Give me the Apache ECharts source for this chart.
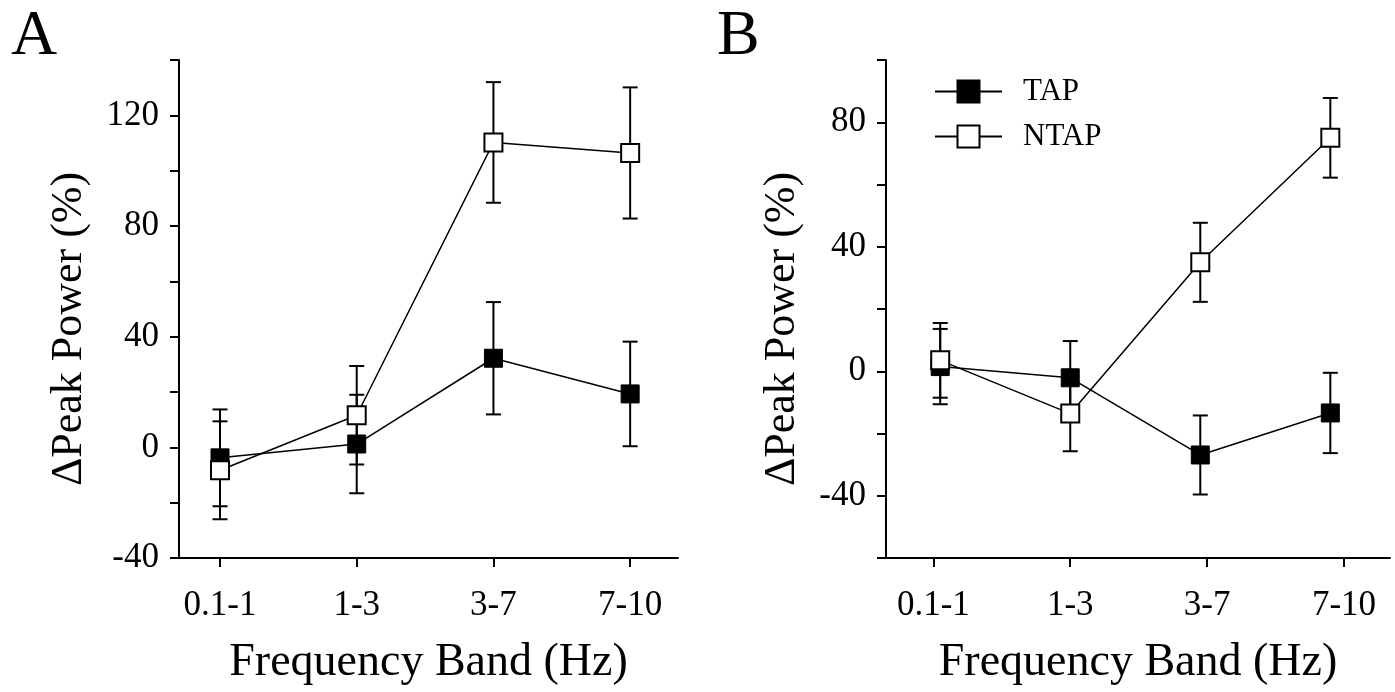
<!DOCTYPE html>
<html>
<head>
<meta charset="utf-8">
<style>
  html, body { margin: 0; padding: 0; background: #fff; }
  #chart { width: 1395px; height: 692px; }
</style>
<script src="https://cdn.jsdelivr.net/npm/echarts@6/dist/echarts.min.js"></script>
</head>
<body>
<div id="chart"></div>
<script>
var bands = ['0.1-1', '1-3', '3-7', '7-10'];
var bandTicks = [0, 1, 2, 3];

// panel A  (mean, error)
var aPos = [0, 1, 2, 3];
var aTap = [-3.8, 1.2, 32.2, 19.3];
var aTapErr = [17.5, 17.8, 20.3, 18.9];
var aNtap = [-8.3, 11.6, 110.2, 106.4];
var aNtapErr = [17.7, 17.8, 21.8, 23.7];
var aYLabels = [-40, 0, 40, 80, 120];

// panel B
var bPos = [0.05, 1, 1.95, 2.9];
var bTap = [1.5, -2.1, -26.9, -13.4];
var bTapErr = [12.1, 11.8, 12.7, 12.9];
var bNtap = [3.5, -13.6, 35.0, 75.0];
var bNtapErr = [12.0, 12.1, 12.7, 12.8];
var bYLabels = [-40, 0, 40, 80];

var FONT = "'Liberation Serif', 'Times New Roman', serif";

var chart = echarts.init(document.getElementById('chart'));

function xAxis(idx, min, max) {
  return {
    type: 'value',
    gridIndex: idx,
    min: min,
    max: max,
    axisLine: { show: true, onZero: false, lineStyle: { color: '#000', width: 2 } },
    axisTick: { show: true, customValues: bandTicks, length: 9, lineStyle: { color: '#000', width: 2 } },
    axisLabel: {
      customValues: bandTicks,
      formatter: function (v) { return bands[Math.round(v)]; },
      fontSize: 35, fontFamily: FONT, color: '#000', margin: 30
    },
    splitLine: { show: false },
    name: 'Frequency Band (Hz)',
    nameLocation: 'middle',
    nameGap: 82,
    nameTextStyle: { fontSize: 46, fontFamily: FONT, color: '#000' }
  };
}

function yAxis(idx, min, max, labels, gap) {
  return {
    type: 'value',
    gridIndex: idx,
    min: min,
    max: max,
    interval: 20,
    axisLine: { show: true, onZero: false, lineStyle: { color: '#000', width: 2 } },
    axisTick: { show: true, length: 9, lineStyle: { color: '#000', width: 2 } },
    axisLabel: {
      formatter: function (v) { return labels.indexOf(v) >= 0 ? String(v) : ''; },
      fontSize: 35, fontFamily: FONT, color: '#000', margin: 20
    },
    splitLine: { show: false },
    name: 'ΔPeak Power (%)',
    nameLocation: 'middle',
    nameGap: gap,
    nameTextStyle: { fontSize: 44, fontFamily: FONT, color: '#000', padding: [0, 40, 0, 0] }
  };
}

function errorBars(idx, pos, mean, err) {
  return {
    type: 'custom',
    xAxisIndex: idx,
    yAxisIndex: idx,
    z: 1,
    silent: true,
    encode: { x: 0, y: [1, 2] },
    data: pos.map(function (p, i) { return [p, mean[i] - err[i], mean[i] + err[i]]; }),
    renderItem: function (params, api) {
      var lo = api.coord([api.value(0), api.value(1)]);
      var hi = api.coord([api.value(0), api.value(2)]);
      var hw = 7.5;
      var st = { stroke: '#000', lineWidth: 2 };
      return {
        type: 'group',
        children: [
          { type: 'line', shape: { x1: lo[0], y1: lo[1], x2: hi[0], y2: hi[1] }, style: st },
          { type: 'line', shape: { x1: lo[0] - hw, y1: lo[1], x2: lo[0] + hw, y2: lo[1] }, style: st },
          { type: 'line', shape: { x1: hi[0] - hw, y1: hi[1], x2: hi[0] + hw, y2: hi[1] }, style: st }
        ]
      };
    }
  };
}

function lineSeries(idx, name, pos, mean, open) {
  return {
    type: 'line',
    name: name,
    xAxisIndex: idx,
    yAxisIndex: idx,
    z: open ? 3 : 2,
    symbol: 'rect',
    symbolSize: 18,
    silent: true,
    data: pos.map(function (p, i) { return [p, mean[i]]; }),
    lineStyle: { color: '#000', width: 1.5 },
    itemStyle: open
      ? { color: '#fff', borderColor: '#000', borderWidth: 2 }
      : { color: '#000', borderColor: '#000', borderWidth: 1 }
  };
}

chart.setOption({
  animation: false,
  backgroundColor: '#fff',
  title: [
    { text: 'A', left: 6, top: 0, textStyle: { fontSize: 64, fontWeight: 'normal', fontFamily: FONT, color: '#000' } },
    { text: 'B', left: 712, top: 0, textStyle: { fontSize: 64, fontWeight: 'normal', fontFamily: FONT, color: '#000' } }
  ],
  legend: {
    data: ['TAP', 'NTAP'],
    orient: 'vertical',
    left: 929,
    top: 71,
    itemWidth: 67,
    itemHeight: 27.5,
    itemGap: 14,
    selectedMode: false,
    textStyle: { fontSize: 31, fontFamily: FONT, color: '#000', padding: [0, 0, 0, 16] }
  },
  grid: [
    { left: 179, top: 60, width: 499, height: 498 },
    { left: 886, top: 60, width: 504, height: 498 }
  ],
  xAxis: [xAxis(0, -0.3, 3.35), xAxis(1, -0.346, 3.336)],
  yAxis: [yAxis(0, -40, 140, aYLabels, 88), yAxis(1, -60, 100, bYLabels, 82)],
  series: [
    errorBars(0, aPos, aTap, aTapErr),
    errorBars(0, aPos, aNtap, aNtapErr),
    lineSeries(0, 'TAP', aPos, aTap, false),
    lineSeries(0, 'NTAP', aPos, aNtap, true),
    errorBars(1, bPos, bTap, bTapErr),
    errorBars(1, bPos, bNtap, bNtapErr),
    lineSeries(1, 'TAP', bPos, bTap, false),
    lineSeries(1, 'NTAP', bPos, bNtap, true)
  ]
});
</script>
</body>
</html>
